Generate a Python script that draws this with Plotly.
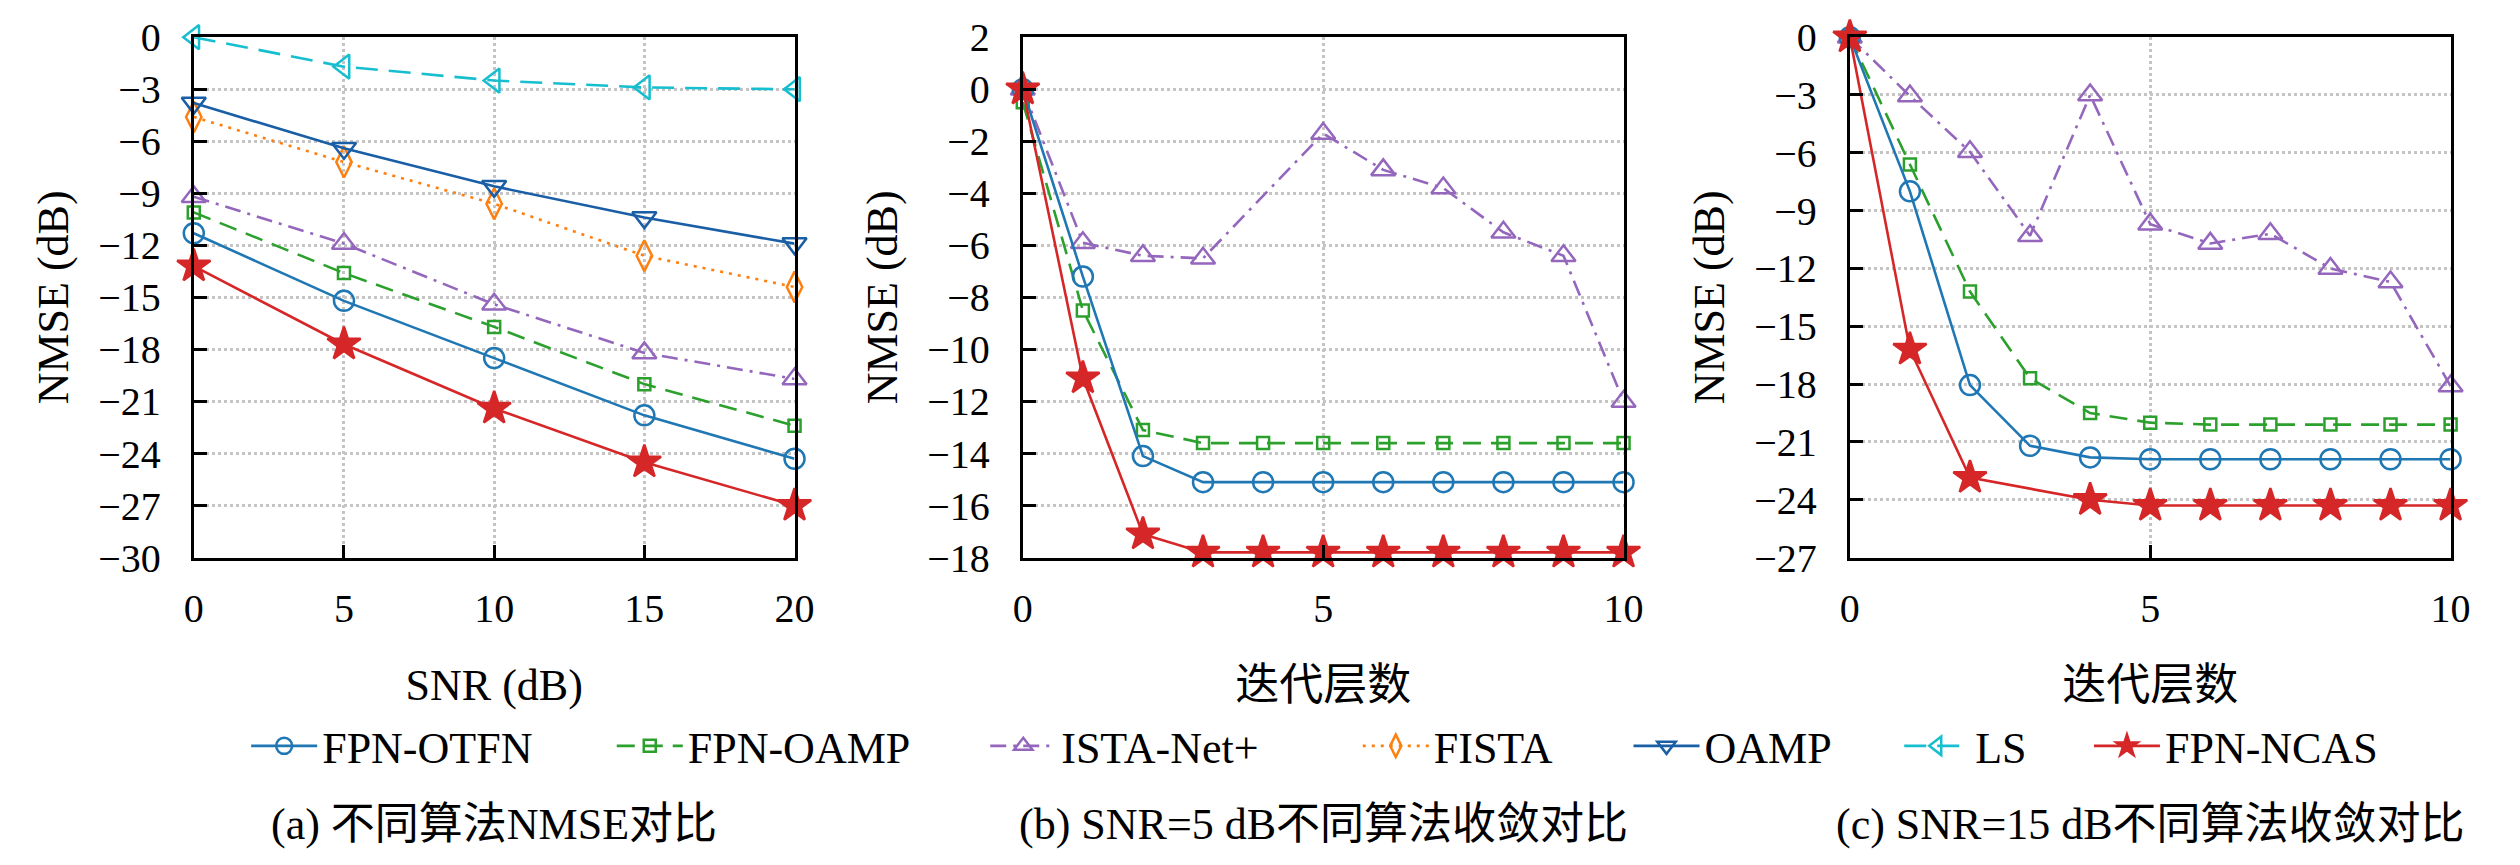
import plotly.graph_objects as go

# ---------------- data ----------------
snr = [0, 5, 10, 15, 20]
a_fpn_otfn = [-11.3, -15.2, -18.5, -21.8, -24.3]
a_fpn_oamp = [-10.1, -13.6, -16.7, -20.0, -22.4]
a_ista = [-9.2, -11.9, -15.4, -18.2, -19.7]
a_fista = [-4.6, -7.2, -9.6, -12.6, -14.4]
a_oamp = [-3.8, -6.4, -8.6, -10.4, -11.9]
a_ls = [0.0, -1.7, -2.5, -2.9, -3.0]
a_fpn_ncas = [-13.2, -17.7, -21.4, -24.5, -27.0]

iters = [0, 1, 2, 3, 4, 5, 6, 7, 8, 9, 10]
b_fpn_otfn = [0.0, -7.2, -14.1, -15.1, -15.1, -15.1, -15.1, -15.1, -15.1, -15.1, -15.1]
b_fpn_oamp = [-0.5, -8.5, -13.1, -13.6, -13.6, -13.6, -13.6, -13.6, -13.6, -13.6, -13.6]
b_ista_x = [0, 1, 2, 3, 5, 6, 7, 8, 9, 10]
b_ista = [0.0, -5.9, -6.4, -6.5, -1.7, -3.1, -3.8, -5.5, -6.4, -12.0]
b_fpn_ncas = [0.0, -11.1, -17.1, -17.8, -17.8, -17.8, -17.8, -17.8, -17.8, -17.8, -17.8]

c_fpn_otfn = [0.0, -8.0, -18.05, -21.2, -21.8, -21.9, -21.9, -21.9, -21.9, -21.9, -21.9]
c_fpn_oamp = [0.0, -6.6, -13.2, -17.7, -19.5, -20.0, -20.1, -20.1, -20.1, -20.1, -20.1]
c_ista = [0.0, -3.05, -5.95, -10.3, -3.0, -9.7, -10.7, -10.2, -12.0, -12.7, -18.1]
c_ncas_x = [0, 1, 2, 4, 5, 6, 7, 8, 9, 10]
c_fpn_ncas = [0.0, -16.2, -22.85, -24.0, -24.3, -24.3, -24.3, -24.3, -24.3, -24.3]

names = ["FPN-OTFN", "FPN-OAMP", "ISTA-Net+", "FISTA", "OAMP", "LS", "FPN-NCAS"]
captions = ["(a) 不同算法NMSE对比", "(b) SNR=5 dB不同算法收敛对比", "(c) SNR=15 dB不同算法收敛对比"]
xtitles = ["SNR (dB)", "迭代层数", "迭代层数"]
ytitle = "NMSE (dB)"

# ---------------- styles ----------------
style = {
    "FPN-OTFN": dict(color="#1f77b4", dash="solid", symbol="circle-open", size=20),
    "FPN-OAMP": dict(color="#2ca02c", dash="18px,10px", symbol="square-open", size=12),
    "ISTA-Net+": dict(color="#9467bd", dash="16px,7px,3px,7px", symbol="triangle-up-open", size=21),
    "FISTA": dict(color="#ff7f0e", dash="3px,6px", symbol="diamond-tall-open", size=22),
    "OAMP": dict(color="#1a5ea6", dash="solid", symbol="triangle-down-open", size=21),
    "LS": dict(color="#17becf", dash="22px,11px", symbol="triangle-left-open", size=21),
    "FPN-NCAS": dict(color="#d62728", dash="solid", symbol="star", size=25),
}
# legend symbol start x (px) for each entry
legend_x_px = [244, 614, 992, 1369, 1643, 1917, 2109]

FONT = "Liberation Serif, Noto Sans CJK SC, serif"
W, H = 2520, 865

fig = go.Figure()


def add(name, x, y, xa, ya, legend=None):
    s = style[name]
    kw = dict(showlegend=False)
    if legend is not None:
        kw = dict(showlegend=True, legend=legend)
    fig.add_trace(go.Scatter(
        x=x, y=y, name=name, mode="lines+markers",
        xaxis=xa, yaxis=ya, legendgroup=name,
        cliponaxis=False,
        line=dict(color=s["color"], width=2.6, dash=s["dash"]),
        marker=dict(symbol=s["symbol"], size=s["size"], color=s["color"],
                    line=dict(color=s["color"], width=2.5)),
        **kw,
    ))


# panel a
a_series = [a_fpn_otfn, a_fpn_oamp, a_ista, a_fista, a_oamp, a_ls, a_fpn_ncas]
for k, (nm, ys) in enumerate(zip(names, a_series)):
    add(nm, snr, ys, "x", "y", legend="legend" if k == 0 else "legend%d" % (k + 1))

# panel b
add("ISTA-Net+", b_ista_x, b_ista, "x2", "y2")
add("FPN-OAMP", iters, b_fpn_oamp, "x2", "y2")
add("FPN-OTFN", iters, b_fpn_otfn, "x2", "y2")
add("FPN-NCAS", iters, b_fpn_ncas, "x2", "y2")

# panel c
add("ISTA-Net+", iters, c_ista, "x3", "y3")
add("FPN-OAMP", iters, c_fpn_oamp, "x3", "y3")
add("FPN-OTFN", iters, c_fpn_otfn, "x3", "y3")
add("FPN-NCAS", c_ncas_x, c_fpn_ncas, "x3", "y3")

top, bottom = 16, 565
xdoms = [(186, 794), (1025, 1633), (1862, 2470)]
ydom = [1 - bottom / H, 1 - top / H]

common = dict(
    showline=True, linecolor="black", linewidth=3, mirror=True,
    ticks="inside", ticklen=13, tickwidth=3, tickcolor="black",
    showgrid=True, gridcolor="#c4c4c4", griddash="dot", gridwidth=2.5,
    zeroline=False, tickfont=dict(family=FONT, size=40, color="black"),
    ticklabeloverflow="allow",
)

xranges = [[0, 20], [0, 10], [0, 10]]
xticks = [[0, 5, 10, 15, 20], [0, 5, 10], [0, 5, 10]]
yranges = [[-30, 0], [-18, 2], [-27, 0]]
yticks = [list(range(0, -31, -3)), list(range(2, -19, -2)), list(range(0, -28, -3))]

for i in range(3):
    sx = "" if i == 0 else str(i + 1)
    fig.layout["xaxis" + sx] = dict(
        common, domain=[xdoms[i][0] / W, xdoms[i][1] / W], anchor="y" + sx,
        range=xranges[i], tickvals=xticks[i], ticklabelstandoff=13,
        title=dict(text=xtitles[i], font=dict(family=FONT, size=44, color="black"), standoff=40),
    )
    fig.layout["yaxis" + sx] = dict(
        common, domain=ydom, anchor="x" + sx,
        range=yranges[i], tickvals=yticks[i], ticklabelstandoff=22,
        title=dict(text=ytitle, font=dict(family=FONT, size=44, color="black"), standoff=16),
    )

for i in range(3):
    cx = (xdoms[i][0] + xdoms[i][1]) / 2 / W
    fig.add_annotation(text=captions[i], xref="paper", yref="paper", x=cx, y=1 - 847 / H,
                       xanchor="center", yanchor="middle", showarrow=False,
                       font=dict(family=FONT, size=44, color="black"))

legend_common = dict(orientation="h", xanchor="left", y=1 - 764 / H, yanchor="middle",
                     font=dict(family=FONT, size=44, color="black"), itemwidth=66,
                     bgcolor="rgba(0,0,0,0)", borderwidth=0)
layout_legends = {}
for k in range(7):
    key = "legend" if k == 0 else "legend%d" % (k + 1)
    layout_legends[key] = dict(legend_common, x=(legend_x_px[k] - 5) / W)

fig.update_layout(
    width=W, height=H, margin=dict(l=0, r=0, t=0, b=0),
    paper_bgcolor="white", plot_bgcolor="white",
    showlegend=True,
    **layout_legends,
)

fig.write_html("out.html", config={"displayModeBar": False},
               post_script="document.body.style.margin='0';document.body.style.overflow='hidden';")
